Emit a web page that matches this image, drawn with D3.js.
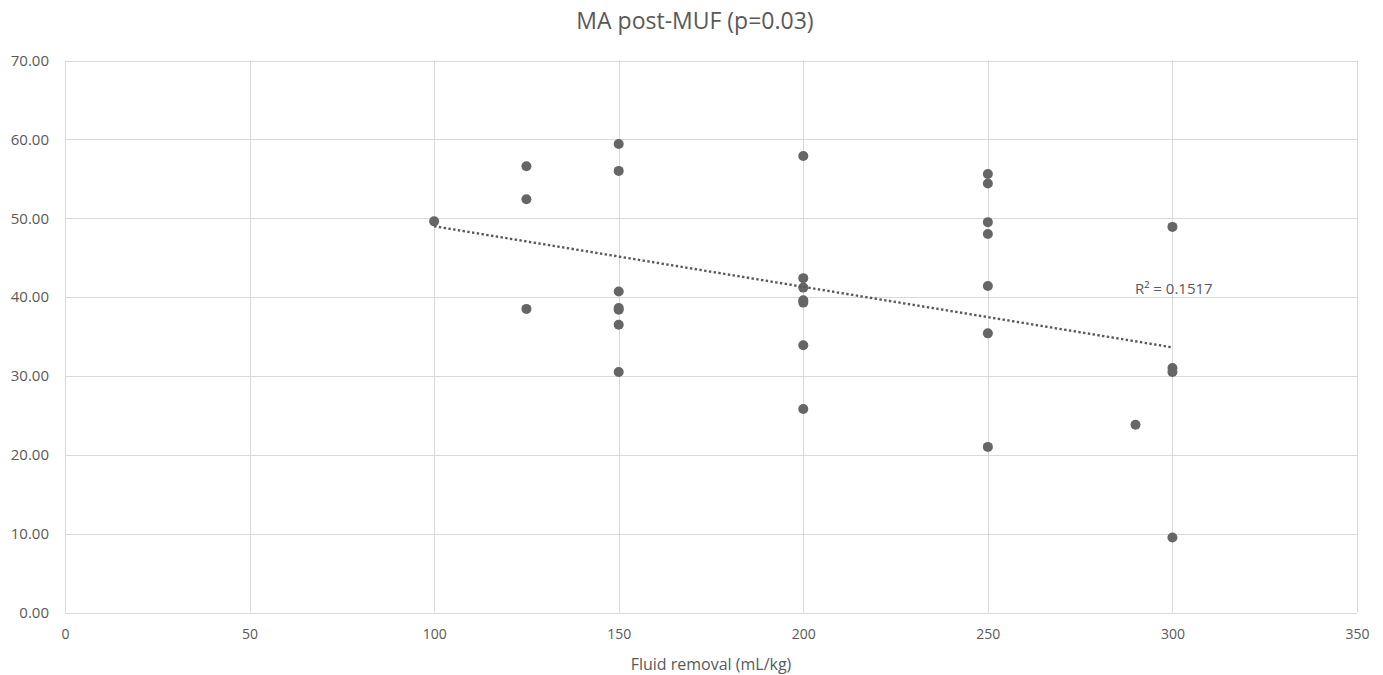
<!DOCTYPE html>
<html>
<head>
<meta charset="utf-8">
<script src="https://cdn.jsdelivr.net/npm/d3@7"></script>
<style>
  html, body { margin: 0; padding: 0; background: #fff; }
  text { font-family: "Open Sans", "Liberation Sans", sans-serif; fill: #595959; }
</style>
</head>
<body>
<svg id="chart" width="1383" height="675"></svg>
<script>
// Data
const fluidRemoval = [100, 125, 125, 125, 150, 150, 150, 150, 150, 150, 150,
  200, 200, 200, 200, 200, 200, 200, 250, 250, 250, 250, 250, 250, 250, 290, 300, 300, 300, 300];
const maPostMUF = [49.6, 56.6, 52.4, 38.5, 59.4, 56.0, 40.7, 38.6, 38.4, 36.5, 30.5,
  57.9, 42.4, 41.2, 39.6, 39.3, 33.9, 25.8, 55.6, 54.4, 49.5, 48.0, 41.4, 35.4, 21.0, 23.8, 48.9, 31.0, 30.5, 9.5];
const xTicks = [0, 50, 100, 150, 200, 250, 300, 350];
const yTicks = [0, 10, 20, 30, 40, 50, 60, 70];
const titleText = "MA post-MUF (p=0.03)";
const xLabelText = "Fluid removal (mL/kg)";
const r2Label = "R² = 0.1517";

const svg = d3.select("#chart");
const m = { left: 65, right: 1383 - 1357, top: 60.5, bottom: 675 - 612.5 };
const W = 1383, H = 675;

const x = d3.scaleLinear().domain([0, 350]).range([m.left, W - m.right]);
const y = d3.scaleLinear().domain([0, 70]).range([H - m.bottom, m.top]);

// Gridlines
svg.append("g").selectAll("line.h").data(yTicks).join("line")
  .attr("x1", x(0)).attr("x2", x(350))
  .attr("y1", d => Math.round(y(d)) + 0.5).attr("y2", d => Math.round(y(d)) + 0.5)
  .attr("stroke", "#d9d9d9").attr("stroke-width", 1);
svg.append("g").selectAll("line.v").data(xTicks).join("line")
  .attr("y1", y(0)).attr("y2", y(70))
  .attr("x1", d => Math.round(x(d)) + 0.5).attr("x2", d => Math.round(x(d)) + 0.5)
  .attr("stroke", "#d9d9d9").attr("stroke-width", 1);

// Axes (labels only)
const yAxis = d3.axisLeft(y).tickValues(yTicks).tickFormat(d3.format(".2f")).tickSize(0).tickPadding(16);
const gy = svg.append("g").attr("transform", `translate(${x(0)},0)`).call(yAxis);
gy.select(".domain").remove();
gy.selectAll("text").style("font-size", "15px").style("font-family", "'Open Sans', sans-serif").attr("fill", "#595959");

const xAxis = d3.axisBottom(x).tickValues(xTicks).tickFormat(d3.format("d")).tickSize(0).tickPadding(17);
const gx = svg.append("g").attr("transform", `translate(0,${y(0)})`).call(xAxis);
gx.select(".domain").remove();
gx.selectAll("text").style("font-size", "14px").style("font-family", "'Open Sans', sans-serif").attr("fill", "#595959");

// Linear regression trendline
const n = fluidRemoval.length;
const mx = d3.mean(fluidRemoval), my = d3.mean(maPostMUF);
let sxy = 0, sxx = 0;
for (let i = 0; i < n; i++) {
  sxy += (fluidRemoval[i] - mx) * (maPostMUF[i] - my);
  sxx += (fluidRemoval[i] - mx) ** 2;
}
const slope = sxy / sxx, intercept = my - slope * mx;
const xMin = d3.min(fluidRemoval), xMax = d3.max(fluidRemoval);

// Points
svg.append("g").selectAll("circle").data(fluidRemoval).join("circle")
  .attr("cx", (d) => x(d))
  .attr("cy", (d, i) => y(maPostMUF[i]))
  .attr("r", 5)
  .attr("fill", "#666666");

svg.append("line")
  .attr("x1", x(xMin)).attr("y1", y(intercept + slope * xMin))
  .attr("x2", x(xMax)).attr("y2", y(intercept + slope * xMax))
  .attr("stroke", "#595959").attr("stroke-width", 2.4)
  .attr("stroke-dasharray", "2.4,2.4");

// R² label
svg.append("text").attr("x", 1135).attr("y", 294).style("font-size", "15px").text(r2Label);

// Title
svg.append("text").attr("x", 695).attr("y", 29).attr("text-anchor", "middle")
  .style("font-size", "23px").text(titleText);

// X label
svg.append("text").attr("x", 711).attr("y", 670).attr("text-anchor", "middle")
  .style("font-size", "16px").text(xLabelText);
</script>
</body>
</html>
